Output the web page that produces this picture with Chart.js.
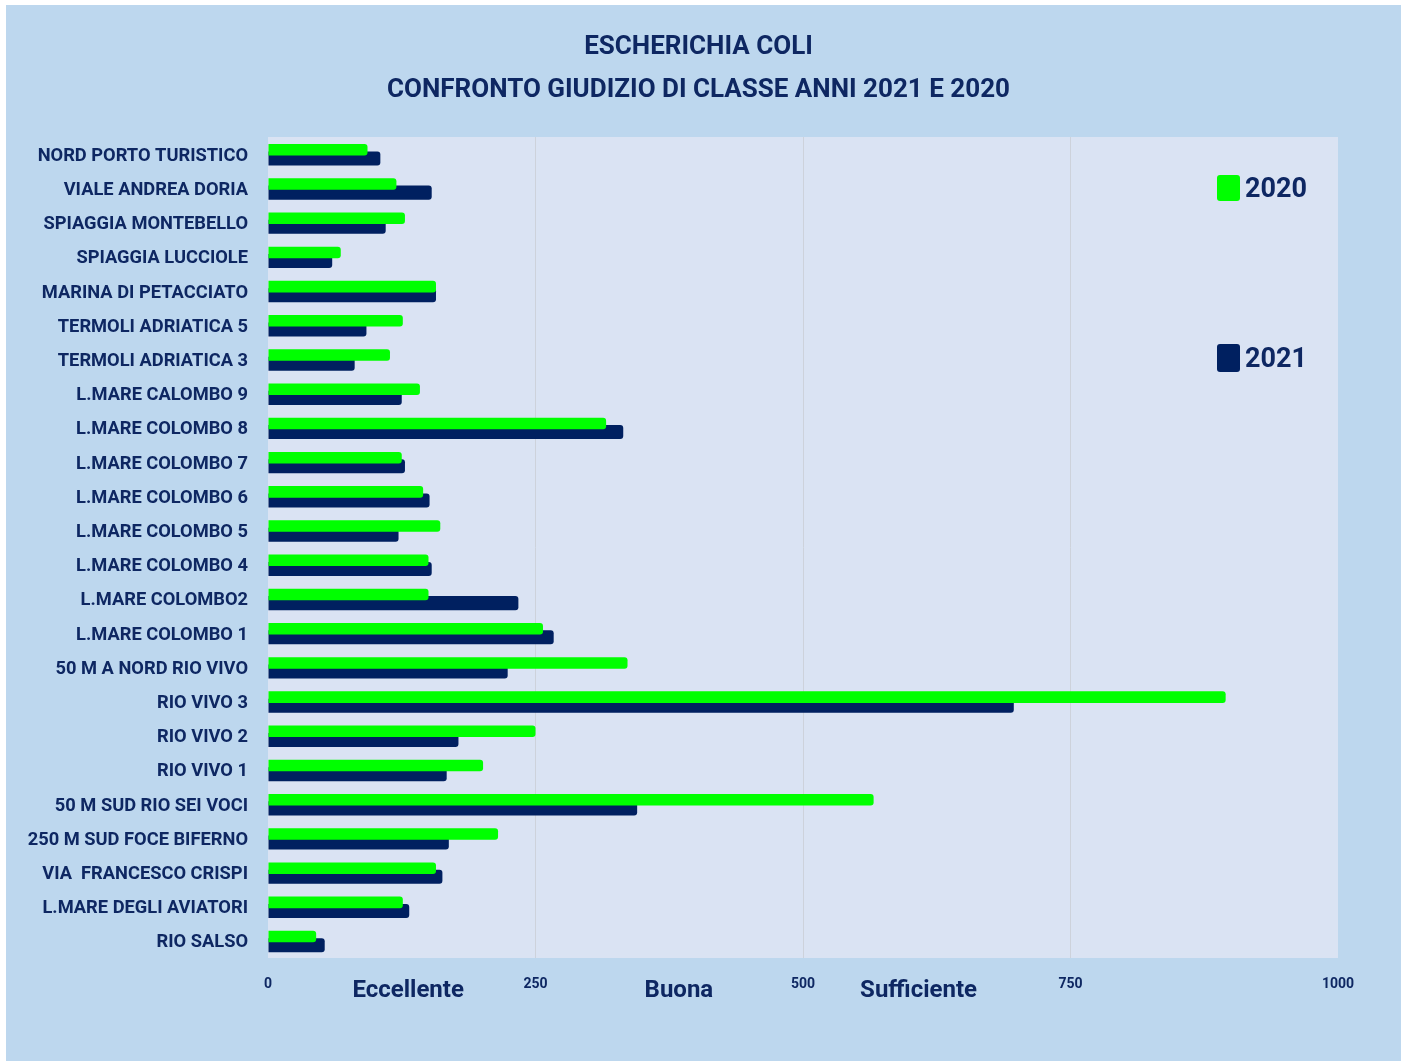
<!DOCTYPE html>
<html>
<head>
<meta charset="utf-8">
<script src="https://cdn.jsdelivr.net/npm/chart.js@4.4.1/dist/chart.umd.min.js"></script>
<style>
  html, body { margin: 0; padding: 0; background: #ffffff; }
  #wrap { position: absolute; left: 6px; top: 5px; width: 1395px; height: 1056px; }
</style>
</head>
<body>
<div id="wrap"><canvas id="c" width="1395" height="1056"></canvas></div>
<script>
const categories = [
  'NORD PORTO TURISTICO', 'VIALE ANDREA DORIA', 'SPIAGGIA MONTEBELLO', 'SPIAGGIA LUCCIOLE',
  'MARINA DI PETACCIATO', 'TERMOLI ADRIATICA 5', 'TERMOLI ADRIATICA 3', 'L.MARE CALOMBO 9',
  'L.MARE COLOMBO 8', 'L.MARE COLOMBO 7', 'L.MARE COLOMBO 6', 'L.MARE COLOMBO 5',
  'L.MARE COLOMBO 4', 'L.MARE COLOMBO2', 'L.MARE COLOMBO 1', '50 M A NORD RIO VIVO',
  'RIO VIVO 3', 'RIO VIVO 2', 'RIO VIVO 1', '50 M SUD RIO SEI VOCI',
  '250 M SUD FOCE BIFERNO', 'VIA  FRANCESCO CRISPI', 'L.MARE DEGLI AVIATORI', 'RIO SALSO'
];
const values2020 = [93, 120, 128, 68, 157, 126, 114, 142, 316, 125, 145, 161, 150, 150, 257, 336, 895, 250, 201, 566, 215, 157, 126, 45];
const values2021 = [105, 153, 110, 60, 157, 92, 81, 125, 332, 128, 151, 122, 153, 234, 267, 224, 697, 178, 167, 345, 169, 163, 132, 53];
const seriesLabels = ['2020', '2021'];
const titleLines = ['ESCHERICHIA COLI', 'CONFRONTO GIUDIZIO DI CLASSE ANNI 2021 E 2020'];
const xTicks = [0, 250, 500, 750, 1000];
const classLabels = ['Eccellente', 'Buona', 'Sufficiente'];
const classLabelValues = [131, 384, 608];

const FONT = "Roboto, 'Liberation Sans', sans-serif";
const TEXT = '#0e2762';
const GREEN = '#00ff00';
const NAVY = '#002060';

const bgPlugin = {
  id: 'bg',
  beforeDraw(chart) {
    const { ctx, chartArea: a } = chart;
    ctx.save();
    ctx.fillStyle = '#bdd7ee';
    ctx.fillRect(0, 0, chart.width, chart.height);
    ctx.fillStyle = '#dae3f3';
    ctx.fillRect(a.left, a.top, a.right - a.left, a.bottom - a.top);
    ctx.restore();
  }
};

const extrasPlugin = {
  id: 'extras',
  afterDraw(chart) {
    const { ctx, chartArea: a } = chart;
    const xs = chart.scales.x;
    ctx.save();
    // class labels under the axis
    ctx.fillStyle = TEXT;
    ctx.font = 'bold 24px ' + FONT;
    ctx.textAlign = 'center';
    ctx.textBaseline = 'middle';
    classLabels.forEach((t, i) => {
      ctx.fillText(t, xs.getPixelForValue(classLabelValues[i]), a.bottom + 33);
    });
    // legend
    const ds = chart.data.datasets;
    const legendY = [a.top + 51, a.top + 221];
    const sqH = [26, 28];
    ds.forEach((d, i) => {
      const x = a.right - 121;
      const y = legendY[i];
      ctx.fillStyle = d.backgroundColor;
      ctx.beginPath();
      if (ctx.roundRect) ctx.roundRect(x, y - sqH[i] / 2, 23, sqH[i], 3);
      else ctx.rect(x, y - sqH[i] / 2, 23, sqH[i]);
      ctx.fill();
      ctx.fillStyle = TEXT;
      ctx.font = 'bold 27px ' + FONT;
      ctx.textAlign = 'left';
      ctx.textBaseline = 'middle';
      ctx.fillText(d.label, x + 28, y + 2);
    });
    ctx.restore();
  }
};

new Chart(document.getElementById('c'), {
  type: 'bar',
  data: {
    labels: categories,
    datasets: [
      { label: seriesLabels[0], data: values2020, backgroundColor: GREEN, barPercentage: 1.34, categoryPercentage: 0.503, borderRadius: 3 },
      { label: seriesLabels[1], data: values2021, backgroundColor: NAVY, barPercentage: 1.63, categoryPercentage: 0.503, borderRadius: 3 }
    ]
  },
  options: {
    indexAxis: 'y',
    responsive: false,
    animation: false,
    layout: { padding: { left: 0, right: 10, top: 0, bottom: 0 } },
    plugins: {
      legend: { display: false },
      tooltip: { enabled: false },
      title: {
        display: true,
        text: titleLines,
        color: TEXT,
        font: { family: FONT, size: 26, weight: 'bold', lineHeight: 1.65 },
        padding: { top: 21.5, bottom: 24.7 }
      }
    },
    scales: {
      x: {
        min: 0, max: 1000,
        afterBuildTicks(scale) { scale.ticks = xTicks.map(v => ({ value: v })); },
        afterFit(scale) { scale.height = 103; },
        border: { display: false },
        grid: {
          drawTicks: false,
          color: (c) => (c.tick && (c.tick.value === 0 || c.tick.value === 1000)) ? 'rgba(0,0,0,0)' : '#cdd2db',
          lineWidth: 1
        },
        ticks: { color: TEXT, padding: 18, callback: (v) => String(v), font: { family: FONT, size: 14, weight: 'bold' } }
      },
      y: {
        afterFit(scale) { scale.width = 262; },
        border: { display: false },
        grid: { display: false, drawTicks: false },
        ticks: { color: TEXT, padding: 20, labelOffset: 2, font: { family: FONT, size: 18.3, weight: 'bold' }, autoSkip: false }
      },
      y2: {
        type: 'category',
        position: 'right',
        afterFit(scale) { scale.width = 53; },
        border: { display: false },
        grid: { display: false, drawTicks: false },
        ticks: { display: false }
      }
    }
  },
  plugins: [bgPlugin, extrasPlugin]
});
</script>
</body>
</html>
